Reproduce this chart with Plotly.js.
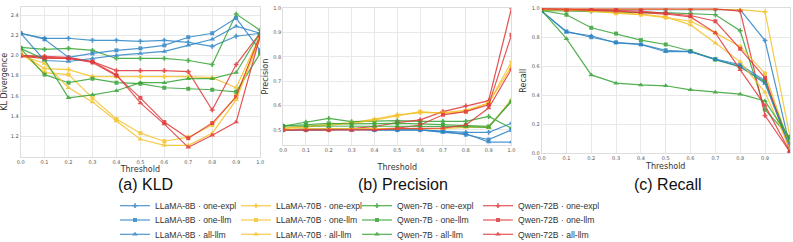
<!DOCTYPE html>
<html><head><meta charset="utf-8">
<script src="https://cdn.plot.ly/plotly-3.0.1.min.js"></script>
<style>html,body{margin:0;padding:0;background:#fff;}</style>
</head><body><div id="chart" style="width:793px;height:242px;"></div>
<script>
const thresholds = [0.0,0.1,0.2,0.3,0.4,0.5,0.6,0.7,0.8,0.9,1.0];
const models = ["LLaMA-8B","LLaMA-70B","Qwen-7B","Qwen-72B"];
const variants = ["one-expl","one-llm","all-llm"];

// KL divergence
const kld_L8_expl  = [2.22,2.17,2.17,2.15,2.15,2.14,2.15,2.13,2.09,2.19,2.22];
const kld_L8_one   = [2.22,2.16,1.98,2.02,2.05,2.07,2.10,2.18,2.22,2.37,2.05];
const kld_L8_all   = [2.22,1.95,1.94,1.97,2.00,2.02,2.04,2.10,2.16,2.29,2.22];
const kld_L70_expl = [2.02,1.87,1.86,1.79,1.79,1.79,1.79,1.79,1.78,1.68,2.20];
const kld_L70_one  = [2.03,1.83,1.81,1.58,1.37,1.23,1.15,1.19,1.31,1.60,2.18];
const kld_L70_all  = [2.00,1.92,1.68,1.54,1.35,1.17,1.11,1.11,1.23,1.56,2.17];
const kld_Q7_expl  = [2.08,2.06,2.07,2.05,1.97,1.97,1.97,1.95,1.91,2.41,2.25];
const kld_Q7_one   = [2.07,1.81,1.73,1.77,1.73,1.72,1.68,1.67,1.66,1.64,2.02];
const kld_Q7_all   = [2.07,1.96,1.58,1.61,1.65,1.73,1.73,1.77,1.77,1.83,2.22];
const kld_Q72_expl = [2.00,1.99,1.98,1.94,1.85,1.85,1.85,1.84,1.46,1.91,2.22];
const kld_Q72_one  = [2.00,1.98,1.97,1.93,1.80,1.58,1.34,1.18,1.33,1.59,2.20];
const kld_Q72_all  = [1.99,1.97,1.97,1.94,1.81,1.53,1.32,1.09,1.21,1.34,2.19];

// Precision
const prec_L8_expl  = [0.500,0.503,0.505,0.505,0.500,0.500,0.500,0.495,0.490,0.490,0.527];
const prec_L8_one   = [0.500,0.503,0.505,0.503,0.500,0.500,0.500,0.493,0.480,0.460,0.500];
const prec_L8_all   = [0.500,0.500,0.503,0.500,0.500,0.500,0.500,0.490,0.485,0.450,0.450];
const prec_L70_expl = [0.507,0.515,0.522,0.530,0.544,0.562,0.571,0.571,0.580,0.610,0.780];
const prec_L70_one  = [0.505,0.512,0.520,0.527,0.540,0.558,0.575,0.568,0.575,0.610,0.760];
const prec_L70_all  = [0.500,0.505,0.505,0.505,0.505,0.505,0.505,0.505,0.510,0.510,0.625];
const prec_Q7_expl  = [0.516,0.532,0.547,0.534,0.537,0.538,0.535,0.535,0.535,0.555,0.507];
const prec_Q7_one   = [0.516,0.520,0.527,0.525,0.527,0.527,0.525,0.522,0.520,0.514,0.616];
const prec_Q7_all   = [0.516,0.515,0.515,0.515,0.515,0.515,0.515,0.515,0.513,0.510,0.620];
const prec_Q72_expl = [0.500,0.500,0.500,0.505,0.514,0.530,0.541,0.575,0.599,0.620,1.000];
const prec_Q72_one  = [0.500,0.500,0.500,0.500,0.503,0.507,0.520,0.562,0.575,0.603,0.890];
const prec_Q72_all  = [0.500,0.500,0.500,0.500,0.500,0.505,0.505,0.507,0.520,0.590,0.750];

// Recall
const rec_L8_expl  = [0.99,0.99,0.99,0.99,0.99,0.99,0.99,0.99,0.99,0.777,0.05];
const rec_L8_one   = [0.98,0.84,0.80,0.765,0.75,0.71,0.70,0.65,0.61,0.50,0.05];
const rec_L8_all   = [0.98,0.835,0.81,0.76,0.75,0.70,0.70,0.645,0.60,0.48,0.04];
const rec_L70_expl = [0.995,0.995,0.995,0.995,0.995,0.995,0.995,0.995,0.99,0.975,0.12];
const rec_L70_one  = [0.99,0.99,0.985,0.965,0.955,0.935,0.91,0.83,0.735,0.55,0.05];
const rec_L70_all  = [0.99,0.99,0.98,0.97,0.96,0.94,0.885,0.76,0.63,0.42,0.03];
const rec_Q7_expl  = [0.985,0.98,0.98,0.975,0.97,0.97,0.965,0.955,0.845,0.30,0.11];
const rec_Q7_one   = [0.985,0.955,0.865,0.825,0.78,0.75,0.705,0.645,0.595,0.49,0.07];
const rec_Q7_all   = [0.985,0.79,0.54,0.483,0.471,0.465,0.437,0.42,0.407,0.36,0.10];
const rec_Q72_expl = [0.995,0.995,0.995,0.995,0.995,0.995,0.995,0.995,0.98,0.26,0.01];
const rec_Q72_one  = [0.995,0.99,0.99,0.985,0.98,0.965,0.95,0.91,0.72,0.52,0.02];
const rec_Q72_all  = [0.995,0.99,0.99,0.98,0.97,0.96,0.94,0.83,0.575,0.33,0.01];

const kldSeries  = [[kld_L8_expl,kld_L8_one,kld_L8_all],[kld_L70_expl,kld_L70_one,kld_L70_all],[kld_Q7_expl,kld_Q7_one,kld_Q7_all],[kld_Q72_expl,kld_Q72_one,kld_Q72_all]];
const precSeries = [[prec_L8_expl,prec_L8_one,prec_L8_all],[prec_L70_expl,prec_L70_one,prec_L70_all],[prec_Q7_expl,prec_Q7_one,prec_Q7_all],[prec_Q72_expl,prec_Q72_one,prec_Q72_all]];
const recSeries  = [[rec_L8_expl,rec_L8_one,rec_L8_all],[rec_L70_expl,rec_L70_one,rec_L70_all],[rec_Q7_expl,rec_Q7_one,rec_Q7_all],[rec_Q72_expl,rec_Q72_one,rec_Q72_all]];

const colors = ["#3085c5","#f5c22a","#36a336","#e0383a"];
const symbols = ["cross","square","triangle-up"];
const symSizes = [4,4,5];
const legendIds = ["legend","legend2","legend3"];

const traces = [];
const panels = [[kldSeries,"x","y"],[precSeries,"x2","y2"],[recSeries,"x3","y3"]];
panels.forEach(([ser,xa,ya],p)=>{
  for(let v=0; v<3; v++){
    for(let m=0; m<4; m++){
      traces.push({
        type:"scatter", mode:"lines+markers",
        x: thresholds, y: ser[m][v], xaxis: xa, yaxis: ya,
        name: models[m] + " · " + variants[v],
        legend: legendIds[v],
        showlegend: p===0,
        opacity: 0.85,
        line:{color:colors[m], width:1.2},
        marker:{color:colors[m], symbol:symbols[v], size:symSizes[v]}
      });
    }
  }
});

const tickfont = {family:"DejaVu Sans", size:5, color:"#555"};
const titlefont = {family:"DejaVu Sans", size:8, color:"#333"};
function xax(domain, anchor, standoff){
  return {domain:domain, anchor:anchor, range:[0,1], tickvals:thresholds, ticktext:thresholds.map(t=>t.toFixed(1)),
    showgrid:true, gridcolor:"#e8e8e8", gridwidth:1, zeroline:false, showline:true, linecolor:"#dddddd", mirror:true,
    ticks:"", tickfont:tickfont, ticklen:0, title:{text:"Threshold", font:titlefont, standoff:standoff}, automargin:false};
}
function yax(domain, anchor, range, tickvals, title){
  return {domain:domain, anchor:anchor, range:range, tickvals:tickvals, ticktext:tickvals.map(t=>t.toFixed(1)),
    showgrid:true, gridcolor:"#e8e8e8", gridwidth:1, zeroline:false, showline:true, linecolor:"#dddddd", mirror:true,
    ticks:"", tickfont:tickfont, title:{text:title, font:titlefont, standoff:3}, automargin:false};
}

const legendBase = {orientation:"h", xanchor:"left", yanchor:"middle", x:0.145,
  font:{family:"Liberation Sans, Arial", size:8.6, color:"#333"}, bgcolor:"rgba(0,0,0,0)",
  entrywidth:76, entrywidthmode:"pixels", itemwidth:30, tracegroupgap:0};

const capFont = {family:"Liberation Sans, Arial", size:16, color:"#111"};
const layout = {
  width:793, height:242, margin:{l:0,r:0,t:0,b:0,autoexpand:false}, paper_bgcolor:"#fff", plot_bgcolor:"#fff",
  xaxis: xax([0.026,0.328],"y",2),
  yaxis: yax([0.3525,0.972],"x",[0.997,2.482],[1.2,1.4,1.6,1.8,2.0,2.2,2.4],"KL Divergence"),
  xaxis2: xax([0.357,0.645],"y2",12),
  yaxis2: yax([0.401,0.966],"x2",[0.438,1.0],[0.5,0.6,0.7,0.8,0.9,1.0],"Precision"),
  xaxis3: xax([0.683,0.996],"y3",3),
  yaxis3: yax([0.367,0.966],"x3",[0,1],[0,0.2,0.4,0.6,0.8,1.0],"Recall"),
  legend: Object.assign({}, legendBase, {y:(242-205.7)/242}),
  legend2: Object.assign({}, legendBase, {y:(242-220)/242}),
  legend3: Object.assign({}, legendBase, {y:(242-234.3)/242}),
  annotations:[
    {text:"(a) KLD", xref:"paper", yref:"paper", x:145/793, y:(242-184)/242, showarrow:false, font:capFont, xanchor:"center", yanchor:"middle"},
    {text:"(b) Precision", xref:"paper", yref:"paper", x:403/793, y:(242-184)/242, showarrow:false, font:capFont, xanchor:"center", yanchor:"middle"},
    {text:"(c) Recall", xref:"paper", yref:"paper", x:668/793, y:(242-184)/242, showarrow:false, font:capFont, xanchor:"center", yanchor:"middle"}
  ]
};
Plotly.newPlot("chart", traces, layout, {displayModeBar:false, staticPlot:true});
</script></body></html>
